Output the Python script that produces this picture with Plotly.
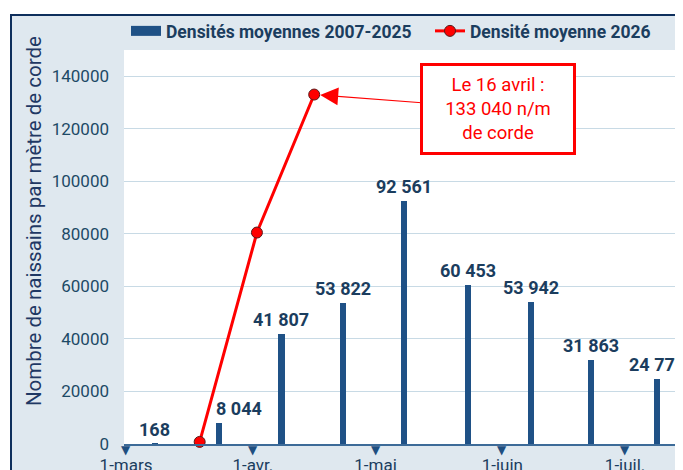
import plotly.graph_objects as go

# ---- data ----
bar_dates = ["2026-03-08", "2026-03-23 18:00", "2026-04-08", "2026-04-23", "2026-05-08",
             "2026-05-23 12:00", "2026-06-08", "2026-06-22 18:00", "2026-07-08 18:00"]
bar_values = [168, 8044, 41807, 53822, 92561, 60453, 53942, 31863, 24777]
bar_labels = ["168", "8 044", "41 807", "53 822", "92 561", "60 453", "53 942", "31 863", "24 777"]

line_dates = ["2026-03-19", "2026-04-02", "2026-04-16"]
line_values = [800, 80500, 133040]

tick_dates = ["2026-03-01", "2026-04-01", "2026-05-01", "2026-06-01", "2026-07-01"]
tick_labels = ["1-mars", "1-avr.", "1-mai", "1-juin", "1-juil."]

y_ticks = [0, 20000, 40000, 60000, 80000, 100000, 120000, 140000]
y_tick_labels = ["0", "20000", "40000", "60000", "80000", "100000", "120000", "140000"]

series_names = ["Densités moyennes 2007-2025", "Densité moyenne 2026"]
y_title = "Nombre de naissains par mètre de corde"
callout = "Le 16 avril :<br>133 040 n/m<br>de corde"

# ---- style ----
NAVY = "#1b3d5e"
BAR = "#1f5186"
BAND = "#dfe8ef"
FONT = "Roboto"
Y_MAX = 150000
OFF = 8  # page body margin
W, H = 683, 470
ML, MR, MT, MB = 124 - OFF, 0, 50 - OFF, H - (444 - OFF)
PW, PH = W - ML - MR, H - MT - MB

def px_x(p):  # page pixel -> paper fraction
    return (p - OFF - ML) / PW

def px_y(p):
    return (H - MB - (p - OFF)) / PH

# label shifts (pixels) to keep the label clear of the red line
label_xshift = {"8 044": 20}

fig = go.Figure()

fig.add_trace(go.Bar(
    x=bar_dates, y=bar_values, name=series_names[0],
    marker=dict(color=BAR, line=dict(width=0)),
    width=1.5 * 86400000, showlegend=False,
))

# legend proxy giving the wide rectangular key of the bar series
fig.add_trace(go.Scatter(
    x=[None], y=[None], name=series_names[0], mode="lines",
    line=dict(color=BAR, width=12), legend="legend", hoverinfo="skip",
))

fig.add_trace(go.Scatter(
    x=line_dates, y=line_values, name=series_names[1], mode="lines+markers",
    line=dict(color="#ff0000", width=3),
    marker=dict(color="#ff0000", size=11, line=dict(color="#5a1a1a", width=1)),
    cliponaxis=False, legend="legend2",
))

annotations = []
# triangle tick markers under the x axis
for d in tick_dates:
    annotations.append(dict(
        x=d, y=0, text="▼", showarrow=False, yanchor="top", yshift=3,
        font=dict(family="DejaVu Sans", size=12, color="#1f4f80"),
    ))

for d, v, t in zip(bar_dates, bar_values, bar_labels):
    annotations.append(dict(
        x=d, y=v, text=t, showarrow=False, yanchor="bottom", yshift=2,
        xshift=label_xshift.get(t, 0),
        font=dict(family=FONT, size=18, color=NAVY, weight=700),
    ))

annotations.append(dict(
    x=line_dates[-1], y=line_values[-1], text=callout,
    showarrow=True, ax=184, ay=14, arrowhead=2, arrowsize=3, arrowwidth=1.2,
    arrowcolor="#ff0000", standoff=6,
    bgcolor="white", bordercolor="#ff0000", borderwidth=3, borderpad=2,
    width=146, height=82,
    font=dict(family=FONT, size=18.5, color="#ff0000"),
))

annotations.append(dict(
    xref="paper", yref="paper", x=px_x(34), y=px_y(221), text=y_title,
    textangle=-90, showarrow=False, xanchor="center", yanchor="middle",
    font=dict(family=FONT, size=20.5, color="#1f3864"),
))

shapes = [
    dict(type="rect", xref="paper", yref="paper", layer="below",
         x0=px_x(11), x1=px_x(W + 40), y0=px_y(H + 40), y1=px_y(15),
         fillcolor=BAND, line=dict(color="#0e2f5c", width=2)),
    dict(type="rect", xref="paper", yref="paper", layer="below",
         x0=0, x1=1, y0=0, y1=1, fillcolor="white", line=dict(width=0)),
]

legend_font = dict(family=FONT, size=17.5, color=NAVY, weight=700)
fig.update_layout(
    width=W, height=H,
    margin=dict(l=ML, r=MR, t=MT, b=MB, autoexpand=False),
    paper_bgcolor="white", plot_bgcolor="white",
    font=dict(family=FONT, color=NAVY),
    showlegend=True,
    legend=dict(
        orientation="h", x=px_x(126), y=px_y(31), xanchor="left", yanchor="middle",
        font=legend_font, bgcolor="rgba(0,0,0,0)", itemclick=False,
    ),
    legend2=dict(
        orientation="h", x=px_x(430), y=px_y(31), xanchor="left", yanchor="middle",
        font=legend_font, bgcolor="rgba(0,0,0,0)", itemclick=False,
    ),
    bargap=0,
    annotations=annotations,
    shapes=shapes,
)

fig.update_xaxes(
    type="date", range=["2026-02-28 12:00", "2026-07-17 03:00"],
    tickvals=tick_dates, ticktext=tick_labels, showgrid=False,
    showline=True, linecolor="#3d6b98", linewidth=2,
    ticks="", ticklabelstandoff=5,
    tickfont=dict(family=FONT, size=17, color=NAVY),
    zeroline=False, fixedrange=True,
)

fig.update_yaxes(
    range=[0, Y_MAX], tickvals=y_ticks, ticktext=y_tick_labels, showgrid=True,
    gridcolor="#c8dae5", gridwidth=1.2, zeroline=False, showline=False,
    ticks="", ticklabelstandoff=14,
    tickfont=dict(family=FONT, size=17, color="#1d4a66"),
    fixedrange=True,
)

fig.write_html("out.html")
